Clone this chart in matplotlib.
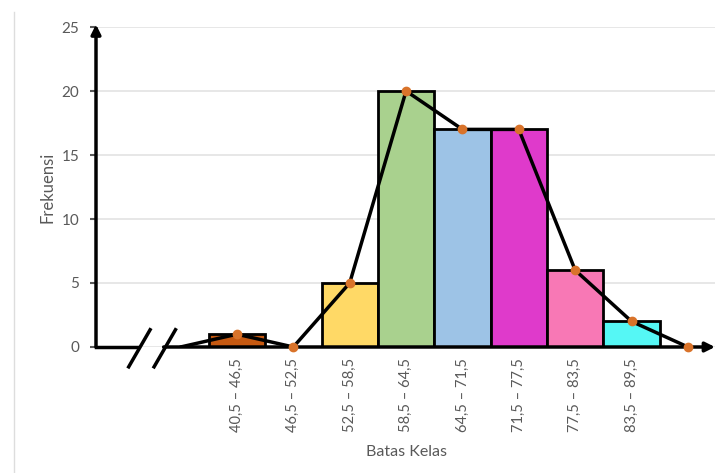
import numpy as np
import matplotlib
matplotlib.use("Agg")
import matplotlib.pyplot as plt
from matplotlib.lines import Line2D

kelas = ["40,5 – 46,5", "46,5 – 52,5", "52,5 – 58,5", "58,5 – 64,5",
         "64,5 – 71,5", "71,5 – 77,5", "77,5 – 83,5", "83,5 – 89,5"]
frekuensi = [1, 0, 5, 20, 17, 17, 6, 2]
warna = ["#C65911", "#FFFFFF", "#FFD966", "#A9D18E",
         "#9DC3E6", "#DF3ACB", "#F878B5", "#55F7F5"]

# frequency polygon: one empty class on each side
poly_y = [0] + frekuensi + [0]
poly_x = np.arange(-1, len(frekuensi) + 1)

plt.rcParams["font.family"] = ["Lato", "DejaVu Sans"]
grey = "#595959"

fig = plt.figure(figsize=(7.21, 4.73), dpi=100)
ax = fig.add_axes([96 / 721, 126 / 473, 619 / 721, 320 / 473])

x = np.arange(len(kelas))
bars = ax.bar(x, frekuensi, width=1.0, color=warna, edgecolor="black",
              linewidth=2, zorder=3)
for b, f in zip(bars, frekuensi):
    if f == 0:
        b.set_visible(False)

ax.plot(poly_x, poly_y, color="black", lw=2.5, zorder=4, solid_capstyle="round")
ax.plot(poly_x[1:], poly_y[1:], "o", color="#D9732A", ms=6, zorder=8,
        markeredgecolor="#D9732A", clip_on=False)

ax.set_xlim(-2.5, 8.48)
ax.set_ylim(0, 25)
ax.set_yticks([0, 5, 10, 15, 20, 25])
ax.yaxis.grid(True, color="#E3E3E3", lw=1.2, zorder=0)
ax.set_axisbelow(True)

ax.set_xticks(x)
ax.set_xticklabels(kelas, rotation=90, color=grey, fontsize=10.5)
ax.tick_params(axis="x", length=0, pad=8)
ax.tick_params(axis="y", colors=grey, labelsize=11, length=4, width=1.5,
               pad=8)
for t in ax.get_yticklines():
    t.set_color("black")

for s in ax.spines.values():
    s.set_visible(False)

# axes drawn by hand with arrows and a break mark
ax.annotate("", xy=(-2.5, 25.2), xytext=(-2.5, 0),
            arrowprops=dict(arrowstyle="-|>", color="black", lw=2.5,
                            mutation_scale=14, shrinkA=0, shrinkB=0),
            annotation_clip=False, zorder=6)
ax.plot([-2.5, -1.78], [0, 0], color="black", lw=2.5, clip_on=False, zorder=6)
ax.annotate("", xy=(8.48, 0), xytext=(-1.3, 0),
            arrowprops=dict(arrowstyle="-|>", color="black", lw=2.5,
                            mutation_scale=14, shrinkA=0, shrinkB=0),
            annotation_clip=False, zorder=6)
for x0 in [-1.92, -1.47]:
    ax.plot([x0, x0 + 0.38], [-1.55, 1.35], color="black", lw=2.5,
            clip_on=False, zorder=6)

ax.set_ylabel("Frekuensi", color=grey, fontsize=12)
ax.yaxis.set_label_coords(-0.066, 0.5)
fig.text(406 / 721, 1 - 452 / 473, "Batas Kelas", color=grey, fontsize=11.5,
         ha="center", va="center")

# faint frame of the original screenshot
fig.add_artist(Line2D([14 / 721, 14 / 721], [0, 1 - 12 / 473],
                      color="#DDDDDD", lw=1))

fig.savefig("out.png", dpi=100)
